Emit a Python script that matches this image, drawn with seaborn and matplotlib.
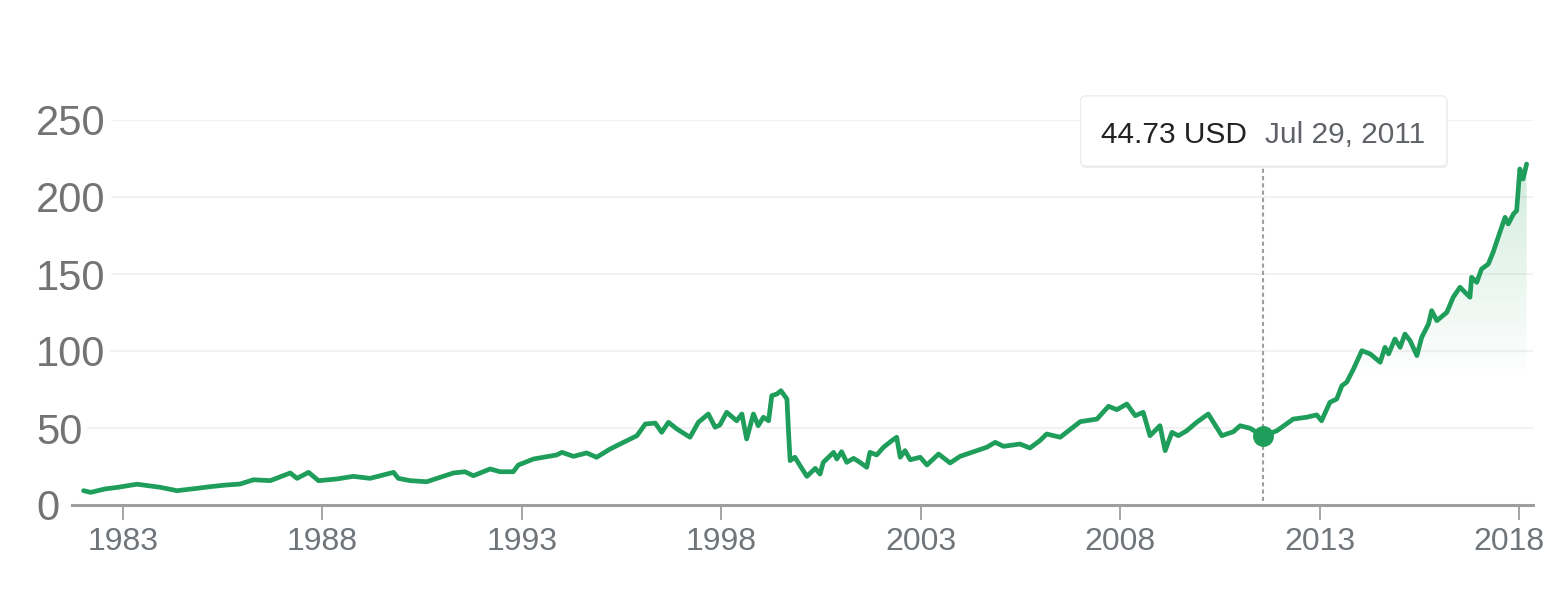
import matplotlib
matplotlib.use("Agg")
from matplotlib import pyplot as plt
from matplotlib import patches, transforms
import matplotlib.patheffects as pe
import numpy as np
import pandas as pd
import seaborn as sns

# price history (decimal year, USD)
years = [
    1982.02, 1982.20, 1982.55, 1982.88, 1983.36, 1983.94, 1984.36, 1984.86, 1985.19, 1985.60,
    1985.94, 1986.28, 1986.70, 1987.20, 1987.37, 1987.66, 1987.91, 1988.37, 1988.78, 1989.20,
    1989.79, 1989.91, 1990.21, 1990.62, 1990.96, 1991.29, 1991.58, 1991.79, 1992.21, 1992.46,
    1992.79, 1992.92, 1993.30, 1993.55, 1993.88, 1994.01, 1994.30, 1994.63, 1994.88, 1995.22,
    1995.64, 1995.89, 1996.10, 1996.35, 1996.51, 1996.68, 1996.89, 1997.22, 1997.43, 1997.68,
    1997.85, 1997.97, 1998.14, 1998.39, 1998.52, 1998.64, 1998.81, 1998.93, 1999.06, 1999.19,
    1999.27, 1999.40, 1999.50, 1999.65, 1999.69, 1999.73, 1999.85, 1999.98, 2000.15, 2000.36,
    2000.48, 2000.56, 2000.82, 2000.90, 2001.02, 2001.15, 2001.32, 2001.48, 2001.65, 2001.73,
    2001.90, 2002.07, 2002.28, 2002.40, 2002.49, 2002.61, 2002.74, 2002.99, 2003.16, 2003.45,
    2003.74, 2003.99, 2004.41, 2004.66, 2004.87, 2005.08, 2005.49, 2005.74, 2005.99, 2006.16,
    2006.50, 2007.00, 2007.42, 2007.71, 2007.92, 2008.17, 2008.38, 2008.58, 2008.75, 2009.00,
    2009.13, 2009.30, 2009.46, 2009.67, 2009.92, 2010.21, 2010.55, 2010.84, 2011.01, 2011.26,
    2011.575, 2011.93, 2012.34, 2012.68, 2012.93, 2013.05, 2013.26, 2013.43, 2013.56, 2013.68,
    2013.85, 2014.06, 2014.27, 2014.52, 2014.64, 2014.73, 2014.89, 2015.02, 2015.14, 2015.27,
    2015.44, 2015.56, 2015.73, 2015.81, 2015.94, 2016.19, 2016.35, 2016.52, 2016.69, 2016.77,
    2016.81, 2016.94, 2017.06, 2017.23, 2017.35, 2017.52, 2017.65, 2017.73, 2017.86, 2017.94,
    2018.02, 2018.10, 2018.19,
]
prices = [
    9.3, 8.2, 10.4, 11.5, 13.5, 11.5, 9.3, 10.8, 11.9, 13.0,
    13.6, 16.4, 15.8, 20.8, 17.3, 21.2, 15.8, 16.9, 18.6, 17.3,
    21.2, 17.3, 15.8, 15.1, 18.0, 20.8, 21.6, 19.0, 23.4, 21.6,
    21.6, 26.0, 29.9, 31.0, 32.5, 34.2, 31.6, 33.8, 31.0, 36.4,
    41.8, 45.0, 52.6, 53.2, 47.2, 53.7, 49.4, 44.0, 53.7, 59.1,
    50.5, 52.0, 60.2, 54.7, 59.1, 42.9, 59.1, 51.5, 57.0, 54.7,
    71.0, 72.1, 74.2, 68.8, 47.2, 28.8, 31.0, 25.5, 18.6, 23.8,
    20.1, 27.7, 34.2, 29.9, 34.6, 27.7, 30.3, 27.7, 24.5, 34.2,
    32.5, 37.5, 41.8, 44.0, 31.0, 35.3, 29.4, 31.0, 26.0, 33.1,
    27.3, 31.6, 35.3, 37.5, 40.7, 38.1, 39.6, 37.0, 41.8, 46.1,
    44.0, 54.1, 55.8, 64.1, 61.9, 65.6, 58.0, 60.2, 45.0, 51.5,
    35.3, 47.2, 45.0, 48.2, 53.7, 59.1, 45.0, 47.6, 51.5, 49.8,
    44.73, 48.2, 55.8, 57.0, 58.5, 54.7, 66.7, 68.8, 77.5, 79.7,
    88.3, 100.2, 98.1, 92.7, 102.4, 98.1, 107.8, 102.4, 111.0, 106.7,
    97.0, 108.9, 117.5, 126.2, 119.7, 125.1, 134.9, 141.4, 137.0, 134.9,
    147.9, 144.6, 153.2, 156.5, 164.1, 177.1, 186.8, 182.5, 189.0, 191.1,
    218.2, 211.7, 221.4,
]

tick_years = [1983, 1988, 1993, 1998, 2003, 2008, 2013, 2018]
y_ticks = [0, 50, 100, 150, 200, 250]

hover_year = 2011.575
hover_price = 44.73
hover_price_label = "44.73 USD"
hover_date_label = "Jul 29, 2011"

GREEN = "#1e9e5a"
GRAY_TXT = "#70757a"
AXIS_GRAY = "#9e9e9e"

sns.set_theme(style="white")
plt.rcParams["font.family"] = ["Liberation Sans", "DejaVu Sans"]

W, H = 1566, 590
fig = plt.figure(figsize=(W / 100, H / 100), dpi=100)
ax = fig.add_axes([72 / W, 85 / H, (1533 - 72) / W, (505 - 120) / H])

df = pd.DataFrame({"year": years, "price": prices})
sns.lineplot(data=df, x="year", y="price", ax=ax, color=GREEN, lw=3.4, zorder=4)

ax.set_xlim(1981.73, 2018.35)
ax.set_ylim(0, 250)

# gradient fill under the line, strongest where the price is high
poly = ax.fill_between(years, prices, 0, facecolor="none", edgecolor="none")
grad_y = np.linspace(0, 250, 300)
alpha = np.clip((grad_y - 80) / 140, 0, 1) * 0.2
rgba = np.zeros((300, 2, 4))
rgba[..., :3] = matplotlib.colors.to_rgb(GREEN)
rgba[..., 3] = alpha[:, None]
im = ax.imshow(rgba, extent=[1981.73, 2018.35, 0, 250], origin="lower",
               aspect="auto", zorder=2, interpolation="bilinear")
im.set_clip_path(poly.get_paths()[0], ax.transData)

# axes styling
for side in ["top", "left", "right"]:
    ax.spines[side].set_visible(False)
ax.spines["bottom"].set_color(AXIS_GRAY)
ax.spines["bottom"].set_linewidth(2.2)
ax.set_xticks(tick_years)
ax.set_xticklabels([str(y) for y in tick_years])
ax.set_yticks([])
ax.tick_params(axis="x", length=11, width=1.3, color=AXIS_GRAY, pad=5,
               labelsize=23, labelcolor=GRAY_TXT, bottom=True, direction="out")
ax.set_xlabel("")
ax.set_ylabel("")
# last year label is pulled in so it stays inside the frame
last = ax.get_xticklabels()[-1]
last.set_transform(last.get_transform() + transforms.Affine2D().translate(-10, 0))

# y labels left-aligned at the figure edge, gridlines start after them
ylab_tr = transforms.blended_transform_factory(fig.transFigure, ax.transData)
ylabels = []
for v in y_ticks:
    ylabels.append(ax.text(36 / W, v, str(v), transform=ylab_tr, ha="left", va="center_baseline",
                           fontsize=30, color="#737373", clip_on=False))

fig.canvas.draw()
renderer = fig.canvas.get_renderer()
ax_bb = ax.get_window_extent(renderer)
for v, t in zip(y_ticks, ylabels):
    if v == 0:
        continue
    x1 = t.get_window_extent(renderer).x1 + 6
    ax.axhline(v, xmin=(x1 - ax_bb.x0) / ax_bb.width, xmax=1, color="#f2f2f2", lw=1.5, zorder=1)

# hover marker
ax.plot([hover_year], [hover_price], "o", ms=14, color=GREEN, zorder=6)

# tooltip
ident = transforms.IdentityTransform()
hx = ax.transData.transform((hover_year, 0))[0]
ty = H - 132
t1 = fig.text(0, ty, hover_price_label, transform=ident, ha="left", va="center_baseline",
              fontsize=21.5, color="#222222", zorder=11)
t2 = fig.text(0, ty, hover_date_label, transform=ident, ha="left", va="center_baseline",
              fontsize=21.5, color="#5f6368", zorder=11)
fig.canvas.draw()
w1 = t1.get_window_extent(renderer).width
w2 = t2.get_window_extent(renderer).width
gap = 18
start = hx - (w1 + gap + w2) / 2
t1.set_x(start)
t2.set_x(start + w1 + gap)

box_top, box_bot = H - 96, H - 166
box = patches.FancyBboxPatch((start - 20, box_bot), w1 + gap + w2 + 42, box_top - box_bot,
                             boxstyle="round,pad=0,rounding_size=5", transform=ident,
                             facecolor="white", edgecolor="#ececec", lw=0.8, zorder=10,
                             path_effects=[pe.withSimplePatchShadow(offset=(0.5, -1.5),
                                                                    shadow_rgbFace="black",
                                                                    alpha=0.07),
                                           pe.Normal()])
fig.patches.append(box)

# dotted guide from the tooltip down to the axis
bot_val = ax.transData.inverted().transform((hx, box_bot))[1]
ax.axvline(hover_year, ymin=0.01, ymax=bot_val / 250, color=AXIS_GRAY, lw=1.5,
           linestyle=(0, (2, 1.5)), zorder=3, clip_on=False)

fig.savefig("out.png", dpi=100)
